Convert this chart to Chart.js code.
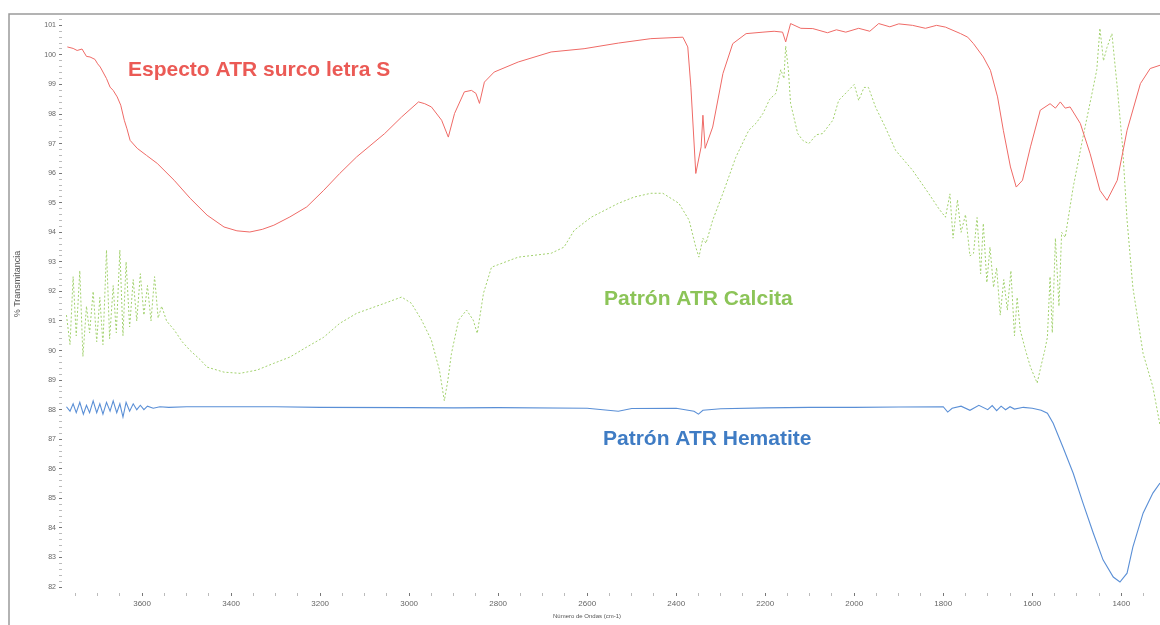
<!DOCTYPE html>
<html><head><meta charset="utf-8">
<script src="https://cdn.jsdelivr.net/npm/chart.js@4/dist/chart.umd.min.js"></script>
<style>html,body{margin:0;padding:0;background:#fff}canvas{display:block}</style>
</head><body>
<canvas id="c" width="1160" height="625"></canvas>
<script>
// ---- tick labels ----
const xTickLabels = [3600, 3400, 3200, 3000, 2800, 2600, 2400, 2200, 2000, 1800, 1600, 1400];
const yTickLabels = [82, 83, 84, 85, 86, 87, 88, 89, 90, 91, 92, 93, 94, 95, 96, 97, 98, 99, 100, 101];

// ---- series labels ----
const seriesNames = ['Especto ATR surco letra S', 'Patrón ATR Calcita', 'Patrón ATR Hematite'];

// ---- Especto ATR surco letra S (red) ----
const redWn = [3768,3755,3746,3735,3725,3717,3706,3700,3694,3680,3672,3665,3656,3648,3640,3634,3627,3611,3590,3566,3528,3492,3454,3416,3387,3358,3330,3304,3268,3230,3192,3156,3118,3055,3017,2979,2965,2950,2927,2912,2898,2876,2860,2850,2842,2831,2809,2755,2681,2607,2530,2457,2385,2374,2367,2356,2344,2340,2335,2318,2295,2273,2243,2205,2180,2161,2154,2143,2120,2093,2060,2040,2019,1990,1965,1945,1920,1900,1869,1840,1815,1795,1761,1745,1732,1710,1694,1678,1665,1649,1636,1622,1604,1582,1560,1548,1537,1526,1515,1492,1470,1448,1432,1409,1387,1357,1335,1313];
const redT  = [100.27,100.22,100.15,100.2,99.95,99.93,99.85,99.7,99.59,99.2,98.91,98.8,98.58,98.3,97.79,97.5,97.11,96.84,96.6,96.33,95.76,95.15,94.58,94.18,94.05,94.01,94.1,94.24,94.52,94.86,95.42,95.99,96.55,97.34,97.9,98.41,98.35,98.24,97.79,97.22,98.02,98.75,98.8,98.7,98.36,99.08,99.42,99.76,100.1,100.21,100.4,100.55,100.6,100.27,98.91,95.99,96.89,97.96,96.84,97.56,99.37,100.38,100.72,100.77,100.8,100.77,100.44,101.06,100.9,100.89,100.75,100.85,100.77,100.9,100.8,101.06,100.95,101.05,101.0,100.9,101.0,100.94,100.72,100.6,100.38,99.93,99.48,98.58,97.45,96.21,95.53,95.76,96.89,98.13,98.35,98.2,98.41,98.2,98.24,97.68,96.66,95.42,95.08,95.76,97.45,99.03,99.54,99.65];

// ---- Patrón ATR Calcita (green) ----
const greenWn = [3770,3762,3755,3748,3740,3733,3725,3718,3710,3702,3695,3688,3680,3673,3665,3658,3650,3643,3636,3628,3620,3612,3604,3596,3588,3580,3572,3564,3556,3545,3528,3510,3492,3470,3454,3416,3380,3342,3304,3268,3230,3192,3156,3118,3055,3017,2995,2972,2950,2932,2921,2913,2905,2889,2871,2856,2847,2833,2815,2755,2681,2652,2629,2591,2530,2495,2457,2430,2394,2371,2356,2349,2340,2333,2318,2295,2266,2237,2220,2205,2190,2176,2165,2158,2154,2148,2143,2127,2115,2102,2085,2071,2048,2035,2013,2000,1990,1978,1968,1952,1930,1907,1869,1833,1810,1795,1785,1778,1768,1760,1750,1740,1732,1724,1716,1710,1702,1695,1687,1680,1672,1664,1656,1648,1640,1634,1627,1615,1604,1589,1580,1572,1566,1560,1555,1548,1540,1534,1526,1508,1486,1463,1455,1448,1440,1432,1421,1415,1409,1397,1387,1374,1351,1329,1313];
const greenT  = [91.2,90.2,92.5,90.5,92.7,89.8,91.5,90.6,92.0,90.3,91.8,90.2,93.4,90.4,92.2,90.6,93.4,90.5,93.0,90.8,92.4,91.0,92.6,91.2,92.2,91.0,92.5,91.1,91.5,91.0,90.7,90.3,90.0,89.7,89.44,89.27,89.23,89.34,89.57,89.78,90.12,90.45,90.92,91.26,91.6,91.81,91.6,91.03,90.35,89.34,88.3,89.0,89.9,91.03,91.37,91.03,90.58,91.94,92.82,93.16,93.29,93.5,94.07,94.51,94.98,95.19,95.32,95.32,94.98,94.41,93.5,93.16,93.8,93.63,94.41,95.32,96.54,97.45,97.7,98.02,98.5,98.7,99.5,99.2,100.3,99.5,98.36,97.34,97.1,97.0,97.3,97.34,97.79,98.46,98.8,99.0,98.46,98.9,98.9,98.23,97.55,96.77,96.1,95.32,94.8,94.51,95.3,93.8,95.1,94.0,94.6,93.2,93.29,94.5,92.6,94.3,92.3,93.5,92.14,92.8,91.2,92.4,91.37,92.7,90.5,91.8,90.69,90.0,89.44,88.9,89.5,90.0,90.45,92.5,90.6,93.8,91.5,94.0,93.83,95.53,97.22,98.9,99.5,100.9,99.8,100.26,100.72,99.8,98.9,96.88,94.41,92.14,89.9,88.77,87.48];

// ---- Patrón ATR Hematite (blue) ----
const blueWn = [3770,3762,3755,3748,3740,3732,3725,3718,3710,3702,3695,3688,3680,3672,3665,3657,3650,3643,3636,3628,3620,3612,3604,3596,3588,3575,3560,3540,3500,3400,3300,3200,3000,2900,2800,2600,2530,2500,2400,2360,2350,2340,2300,2200,2100,2000,1900,1800,1790,1780,1760,1740,1720,1700,1690,1680,1670,1660,1650,1640,1620,1600,1580,1566,1553,1531,1508,1486,1463,1441,1418,1403,1387,1374,1351,1329,1313];
const blueT  = [88.1,87.95,88.2,87.9,88.25,87.85,88.15,87.9,88.3,87.9,88.2,87.85,88.25,87.95,88.3,87.9,88.2,87.75,88.25,87.95,88.2,88.0,88.15,88.0,88.12,88.05,88.1,88.08,88.1,88.1,88.1,88.08,88.07,88.06,88.07,88.05,87.95,88.04,88.05,87.95,87.85,87.98,88.03,88.06,88.08,88.08,88.09,88.1,87.92,88.05,88.12,87.98,88.15,88.0,88.14,87.97,88.12,88.0,88.1,88.02,88.08,88.05,87.98,87.88,87.54,86.73,85.85,84.84,83.83,82.92,82.34,82.17,82.47,83.35,84.5,85.18,85.52];

const pts = (w, t) => w.map((x, i) => ({x: x, y: t[i]}));

const RED = '#ef6a66', GREEN = '#a2d16e', BLUE = '#5a8fd6';

const overlay = {
  id: 'overlay',
  afterDraw(chart) {
    const ctx = chart.ctx;
    ctx.save();
    // frame
    ctx.strokeStyle = '#9a9a9a';
    ctx.lineWidth = 1.5;
    ctx.beginPath();
    ctx.moveTo(9, 625); ctx.lineTo(9, 14); ctx.lineTo(1160, 14);
    ctx.stroke();
    // series labels
    ctx.textBaseline = 'alphabetic';
    ctx.textAlign = 'left';
    ctx.font = 'bold 21px "Liberation Sans", Arial, sans-serif';
    ctx.fillStyle = '#eb5a55';
    ctx.fillText(seriesNames[0], 128, 76);
    ctx.fillStyle = '#8cc458';
    ctx.fillText(seriesNames[1], 604, 305);
    ctx.fillStyle = '#3f7cc4';
    ctx.fillText(seriesNames[2], 603, 445);
    // axis titles
    ctx.fillStyle = '#555';
    ctx.font = '6px "Liberation Sans", Arial, sans-serif';
    ctx.textAlign = 'center';
    ctx.textBaseline = 'middle';
    ctx.fillText('Número de Ondas (cm-1)', 587, 616);
    ctx.translate(18, 284);
    ctx.rotate(-Math.PI / 2);
    ctx.font = '9px "Liberation Sans", Arial, sans-serif';
    ctx.fillText('% Transmitancia', 0, 0);
    ctx.restore();
  }
};

new Chart(document.getElementById('c'), {
  type: 'line',
  data: {
    datasets: [
      {label: seriesNames[0], data: pts(redWn, redT), borderColor: RED, borderWidth: 1, pointRadius: 0, tension: 0},
      {label: seriesNames[1], data: pts(greenWn, greenT), borderColor: GREEN, borderWidth: 1, borderDash: [2, 2], pointRadius: 0, tension: 0},
      {label: seriesNames[2], data: pts(blueWn, blueT), borderColor: BLUE, borderWidth: 1.1, pointRadius: 0, tension: 0}
    ]
  },
  options: {
    responsive: false,
    animation: false,
    layout: {padding: {top: 15, left: 0, right: 0, bottom: 0}},
    plugins: {legend: {display: false}, tooltip: {enabled: false}},
    scales: {
      x: {
        type: 'linear', reverse: true, min: 1313, max: 3780,
        afterBuildTicks(s) { const t = []; for (let v = 3750; v >= 1350; v -= 50) t.push({value: v}); s.ticks = t; },
        afterFit(s) { s.height = 32; },
        ticks: {autoSkip: false, maxRotation: 0, minRotation: 0, padding: 3, color: '#666', font: {size: 8},
          callback: v => xTickLabels.includes(v) ? String(v) : ''},
        grid: {drawOnChartArea: false, drawTicks: true, tickLength: 3,
          tickColor: c => (c.tick && c.tick.value % 200 === 0) ? '#777' : '#bbb'},
        border: {display: false}
      },
      y: {
        type: 'linear', min: 81.8, max: 101.35,
        afterBuildTicks(s) { const t = []; for (let i = 410; i <= 506; i++) t.push({value: i / 5}); s.ticks = t; },
        afterFit(s) { s.width = 62; },
        ticks: {autoSkip: false, padding: 3, color: '#666', font: {size: 7},
          callback: v => yTickLabels.includes(Math.round(v * 1000) / 1000) ? String(Math.round(v)) : ''},
        grid: {drawOnChartArea: false, drawTicks: true, tickLength: 3,
          tickColor: c => (c.tick && Math.abs(c.tick.value - Math.round(c.tick.value)) < 1e-6) ? '#777' : '#bbb'},
        border: {display: false}
      }
    }
  },
  plugins: [overlay]
});
</script>
</body></html>
